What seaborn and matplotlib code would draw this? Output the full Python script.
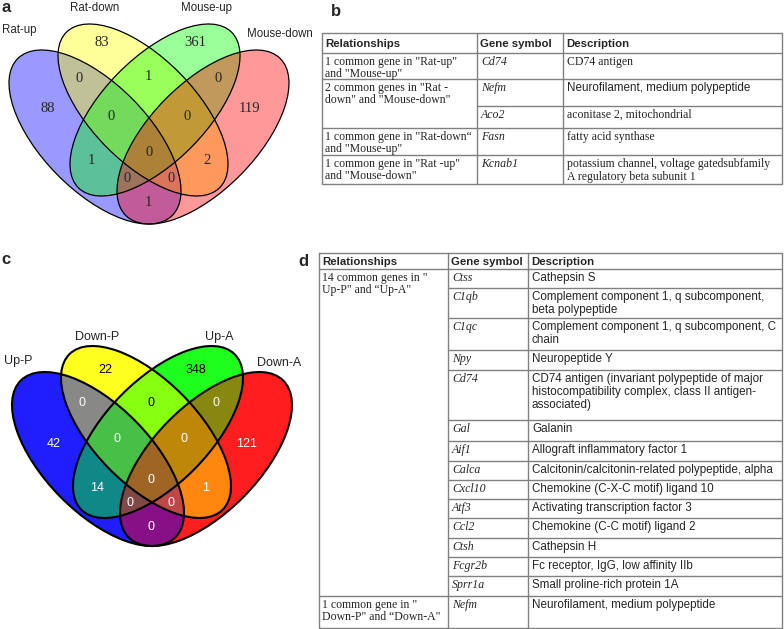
import numpy as np
import matplotlib
matplotlib.use("Agg")
import matplotlib.pyplot as plt
from matplotlib.colors import to_rgb
from matplotlib.patches import Ellipse
import seaborn as sns

# ---- data -------------------------------------------------------------
regions = ["A", "B", "C", "D", "AB", "BC", "CD", "ABC", "BCD",
           "AC", "ABCD", "BD", "ACD", "ABD", "AD"]

sets_a = ["Rat-up", "Rat-down", "Mouse-up", "Mouse-down"]
counts_a = [88, 83, 361, 119, 0, 1, 0, 0, 0, 1, 0, 2, 0, 0, 1]

sets_c = ["Up-P", "Down-P", "Up-A", "Down-A"]
counts_c = [42, 22, 348, 121, 0, 0, 0, 0, 0, 14, 0, 1, 0, 0, 0]

header = ["Relationships", "Gene symbol", "Description"]

rel_b = ['1 common gene in "Rat-up"\nand "Mouse-up"',
         '2 common genes in "Rat -\ndown" and "Mouse-down"',
         '1 common gene in "Rat-down\u201c\nand "Mouse-up"',
         '1 common gene in "Rat -up"\nand "Mouse-down"']
span_b = [1, 2, 1, 1]
genes_b = ["Cd74", "Nefm", "Aco2", "Fasn", "Kcnab1"]
desc_b = ["CD74 antigen",
          "Neurofilament, medium polypeptide",
          "aconitase 2, mitochondrial",
          "fatty acid synthase",
          "potassium channel, voltage gatedsubfamily\nA regulatory beta subunit 1"]

rel_d = ['14 common genes in "\nUp-P" and \u201cUp-A"',
         '1 common gene in "\nDown-P" and \u201cDown-A"']
span_d = [14, 1]
genes_d = ["Ctss", "C1qb", "C1qc", "Npy", "Cd74", "Gal", "Aif1", "Calca",
           "Cxcl10", "Atf3", "Ccl2", "Ctsh", "Fcgr2b", "Sprr1a", "Nefm"]
desc_d = ["Cathepsin S",
          "Complement component 1, q subcomponent,\nbeta polypeptide",
          "Complement component 1, q subcomponent, C\nchain",
          "Neuropeptide Y",
          "CD74 antigen (invariant polypeptide of major\nhistocompatibility complex, class II antigen-\nassociated)",
          "Galanin",
          "Allograft inflammatory factor 1",
          "Calcitonin/calcitonin-related polypeptide, alpha",
          "Chemokine (C-X-C motif) ligand 10",
          "Activating transcription factor 3",
          "Chemokine (C-C motif) ligand 2",
          "Cathepsin H",
          "Fc receptor, IgG, low affinity IIb",
          "Small proline-rich protein 1A",
          "Neurofilament, medium polypeptide"]

# ---- style / layout ---------------------------------------------------
sns.set_theme(style="white")
SERIF = "Liberation Serif"
SANS = "Liberation Sans"
plt.rcParams["font.family"] = [SANS, "DejaVu Sans"]

set_colors = ["#0000ff", "#ffff00", "#00ff00", "#ff0000"]

# ellipses in pixel space: cx, cy, half-width, half-height, tilt
shapes = [(95, 137, 86, 87, 0.62), (143, 110, 85, 86, 0.63),
          (155, 110, 85, 86, -0.63), (203, 137, 86, 87, -0.62)]

pos_a = [(48, 109), (102, 43), (195, 43), (250, 109), (79, 79), (148, 77),
         (218, 79), (111, 117), (187, 117), (91, 161), (149, 153),
         (207, 161), (127, 178), (171, 178), (148, 202)]
pos_c = [(54, 444), (105, 370), (196, 370), (247, 444), (82, 403),
         (151, 403), (216, 403), (117, 439), (184, 439), (97, 488),
         (151, 480), (206, 488), (130, 503), (171, 503), (151, 527)]
txt_col_c = ["white", "black", "black", "white", "white", "black", "white",
             "white", "white", "white", "white", "white", "white", "white",
             "white"]


def venn(ax, shift, first_alpha, alpha, lw):
    sx, sy = shift
    x0, x1, y0, y1 = sx, sx + 300, sy + 15, sy + 232
    X, Y = np.meshgrid(np.arange(x0, x1, 0.5) + 0.25,
                       np.arange(y0, y1, 0.5) + 0.25)
    rgb = np.ones(X.shape + (3,))
    covered = np.zeros(X.shape, bool)
    for (cx, cy, w, h, r), col in zip(shapes, set_colors):
        cx, cy = cx + sx, cy + sy
        cov = np.array([[w * w, r * w * h], [r * w * h, h * h]])
        inv = np.linalg.inv(cov)
        dx, dy = X - cx, Y - cy
        inside = inv[0, 0] * dx * dx + 2 * inv[0, 1] * dx * dy + inv[1, 1] * dy * dy <= 1
        c = np.array(to_rgb(col))
        new, old = inside & ~covered, inside & covered
        rgb[new] = (1 - first_alpha) + first_alpha * c
        rgb[old] = (1 - alpha) * rgb[old] + alpha * c
        covered |= inside
        vals, vecs = np.linalg.eigh(cov)
        ang = np.degrees(np.arctan2(vecs[1, 1], vecs[0, 1]))
        ax.add_patch(Ellipse((cx, cy), 2 * np.sqrt(vals[1]), 2 * np.sqrt(vals[0]),
                             angle=ang, fill=False, ec="black", lw=lw, zorder=3))
    img = np.dstack([rgb, covered.astype(float)])
    ax.imshow(img, extent=(x0, x1, y1, y0), interpolation="bilinear",
              aspect="auto", zorder=1)


def table(ax, xs, ys, rels, spans, genes, descs, desc_fam, desc_size):
    lc, lw = "#808080", 1.0
    left, right = xs[0], xs[-1]
    top, bottom = ys[0], ys[-1]
    ax.plot([left, right, right, left, left], [top, top, bottom, bottom, top],
            color=lc, lw=lw, zorder=2)
    for x in xs[1:-1]:
        ax.plot([x, x], [top, bottom], color=lc, lw=lw, zorder=2)
    for i, h in enumerate(header):
        ax.text(xs[i] + 3, (ys[0] + ys[1]) / 2 + 1, h, fontsize=8.2,
                fontweight="bold", family=SANS, va="center", ha="left")
    row = 0
    for rel, n in zip(rels, spans):
        y_top = ys[row + 1]
        ax.plot([left, right], [y_top, y_top], color=lc, lw=lw, zorder=2)
        ax.text(xs[0] + 3, y_top + 3, rel, fontsize=8.5, family=SERIF,
                va="top", ha="left", linespacing=1.0)
        for k in range(n):
            r = row + k
            yt = ys[r + 1]
            if k > 0:
                ax.plot([xs[1], right], [yt, yt], color=lc, lw=lw, zorder=2)
            ax.text(xs[1] + 4, yt + 3, genes[r], fontsize=8.6, family=SERIF,
                    style="italic", va="top", ha="left")
            ax.text(xs[2] + 4, yt + 3, descs[r], fontsize=desc_size[r],
                    family=desc_fam[r], va="top", ha="left", linespacing=1.12)
        row += n


fig = plt.figure(figsize=(7.84, 6.29), dpi=100)
ax = fig.add_axes([0, 0, 1, 1])

# panel a
venn(ax, (0, 0), 0.4, 0.4, 0.9)
for (x, y), n in zip(pos_a, counts_a):
    ax.text(x, y, str(n), fontsize=10.5, family=SERIF, ha="center",
            va="center", zorder=4)
ax.text(2, 30, sets_a[0], fontsize=8.3, ha="left", va="center")
ax.text(95, 8, sets_a[1], fontsize=8.3, ha="center", va="center")
ax.text(207, 8, sets_a[2], fontsize=8.3, ha="center", va="center")
ax.text(247, 34, sets_a[3], fontsize=8.3, ha="left", va="center")

# panel c
venn(ax, (3, 322), 0.88, 0.47, 1.5)
for (x, y), n, tc in zip(pos_c, counts_c, txt_col_c):
    ax.text(x, y, str(n), fontsize=9, color=tc, ha="center", va="center",
            zorder=4)
ax.text(18, 361, sets_c[0], fontsize=9, ha="center", va="center")
ax.text(97, 337, sets_c[1], fontsize=9, ha="center", va="center")
ax.text(219, 337, sets_c[2], fontsize=9, ha="center", va="center")
ax.text(279, 363, sets_c[3], fontsize=9, ha="center", va="center")

# tables b and d
table(ax, [322, 477, 563, 782], [33, 53, 79, 106, 128, 155, 184],
      rel_b, span_b, genes_b, desc_b,
      [SERIF, SANS, SERIF, SERIF, SERIF], [8.5, 8.4, 8.5, 8.5, 8.5])
table(ax, [319, 448, 528, 782],
      [253, 269, 288, 318, 350, 370, 420, 441, 461, 480, 499, 518, 538,
       557, 576, 596, 628],
      rel_d, span_d, genes_d, desc_d, [SANS] * 15, [8.4] * 15)

for lab, (x, y) in zip("abcd", [(1, 8), (331, 12), (1, 259), (298, 262)]):
    ax.text(x, y, lab, fontsize=12, fontweight="bold", ha="left", va="center")

ax.set_xlim(0, 784)
ax.set_ylim(629, 0)
ax.axis("off")
fig.savefig("out.png", dpi=100)
